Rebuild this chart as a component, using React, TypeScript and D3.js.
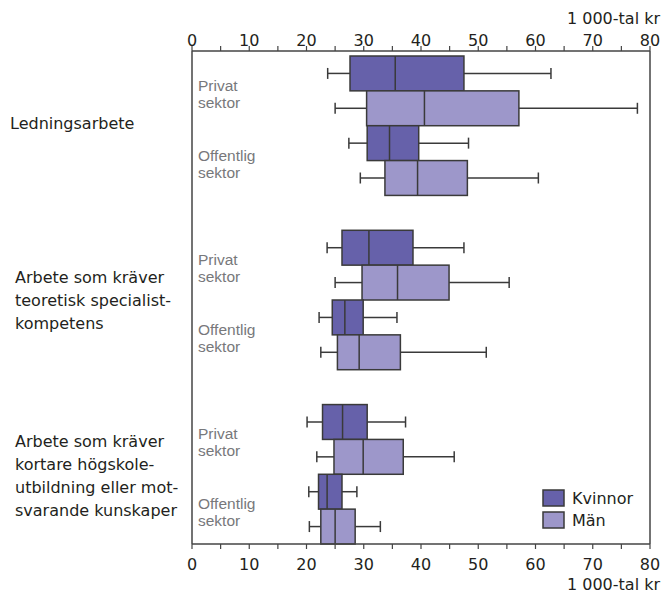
import React from "react";
import * as d3 from "d3";

const groups = [
  ["Ledningsarbete"],
  ["Arbete som kräver", "teoretisk specialist-", "kompetens"],
  ["Arbete som kräver", "kortare högskole-", "utbildning eller mot-", "svarande kunskaper"],
];
const sectors = [["Privat", "sektor"], ["Offentlig", "sektor"]];
const series = ["Kvinnor", "Män"];
const axisTitle = "1 000-tal kr";
const ticks = [0, 10, 20, 30, 40, 50, 60, 70, 80];

// order per group: privat kvinnor, privat män, offentlig kvinnor, offentlig män
// [low whisker, Q1, median, Q3, high whisker]
const g1 = [
  [23.7, 27.6, 35.5, 47.5, 62.7],
  [25.0, 30.5, 40.6, 57.1, 77.8],
  [27.4, 30.6, 34.5, 39.6, 48.3],
  [29.4, 33.7, 39.4, 48.1, 60.5],
];
const g2 = [
  [23.6, 26.2, 30.9, 38.6, 47.5],
  [25.0, 29.7, 35.9, 44.9, 55.4],
  [22.2, 24.5, 26.7, 29.9, 35.8],
  [22.5, 25.4, 29.2, 36.4, 51.4],
];
const g3 = [
  [20.1, 22.8, 26.3, 30.6, 37.3],
  [21.8, 24.8, 29.9, 36.9, 45.8],
  [20.4, 22.1, 23.6, 26.2, 28.8],
  [20.5, 22.5, 25.0, 28.5, 32.9],
];
const groupData = [g1, g2, g3];

const colors = ["#6661aa", "#9d97ca"];
const W = 663, H = 593;
const left = 192, right = 650, top = 56, bottom = 544, axisTop = 51;

export default function App() {
  const x = d3.scaleLinear().domain([0, 80]).range([left, right]);
  const slots = d3.range(14);
  const y = d3.scaleBand<number>().domain(slots).range([top, bottom]).padding(0);
  const bh = y.bandwidth();
  const minor = d3.range(0, 81, 5);
  const darkFont = "'DejaVu Sans', sans-serif";
  const lh = 23;

  return (
    <svg width={W} height={H} style={{ position: "absolute", left: 0, top: 0 }}>
      <rect width={W} height={H} fill="#fff" />
      {/* boxes */}
      {groupData.map((g, gi) =>
        g.map((d, k) => {
          const slot = gi * 5 + k;
          const y0 = y(slot)!;
          const cy = y0 + bh / 2;
          const c = colors[k % 2];
          return (
            <g key={`${gi}-${k}`}>
              <line x1={x(d[0])} x2={x(d[1])} y1={cy} y2={cy} stroke="#3a3a3a" strokeWidth={1.5} />
              <line x1={x(d[3])} x2={x(d[4])} y1={cy} y2={cy} stroke="#3a3a3a" strokeWidth={1.5} />
              <line x1={x(d[0])} x2={x(d[0])} y1={cy - 5.5} y2={cy + 5.5} stroke="#3a3a3a" strokeWidth={1.5} />
              <line x1={x(d[4])} x2={x(d[4])} y1={cy - 5.5} y2={cy + 5.5} stroke="#3a3a3a" strokeWidth={1.5} />
              <rect x={x(d[1])} y={y0} width={x(d[3]) - x(d[1])} height={bh} fill={c} stroke="#3a3a3a" strokeWidth={1.5} />
              <line x1={x(d[2])} x2={x(d[2])} y1={y0} y2={y0 + bh} stroke="#3a3a3a" strokeWidth={1.5} />
            </g>
          );
        })
      )}
      {/* frame */}
      <line x1={left} x2={right} y1={axisTop} y2={axisTop} stroke="#444" strokeWidth={1.5} />
      <line x1={left} x2={right} y1={bottom} y2={bottom} stroke="#444" strokeWidth={1.5} />
      <line x1={left} x2={left} y1={axisTop} y2={bottom} stroke="#444" strokeWidth={1.5} />
      <line x1={right} x2={right} y1={axisTop} y2={bottom} stroke="#444" strokeWidth={1.5} />
      {minor.map((t) => (
        <g key={t}>
          <line x1={x(t)} x2={x(t)} y1={axisTop} y2={axisTop - 5} stroke="#444" strokeWidth={1.2} />
          <line x1={x(t)} x2={x(t)} y1={bottom} y2={bottom + 5} stroke="#444" strokeWidth={1.2} />
        </g>
      ))}
      {ticks.map((t) => (
        <g key={t} fontFamily={darkFont} fontSize={16} fill="#231f20" textAnchor="middle">
          <text x={x(t)} y={45.5}>{t}</text>
          <text x={x(t)} y={570}>{t}</text>
        </g>
      ))}
      <text x={660} y={24} fontFamily={darkFont} fontSize={16} fill="#231f20" textAnchor="end">{axisTitle}</text>
      <text x={660} y={590} fontFamily={darkFont} fontSize={16} fill="#231f20" textAnchor="end">{axisTitle}</text>
      {/* category labels */}
      {groups.map((lines, gi) => {
        const center = y(gi * 5)! + 2 * bh;
        const n = lines.length;
        const first = center - ((n - 1) * lh) / 2 + 3 + (n - 1) * 1.5;
        return (
          <text key={gi} fontFamily={darkFont} fontSize={16} fill="#231f20">
            {lines.map((l, i) => (
              <tspan key={i} x={gi === 0 ? 10 : 15} y={first + i * lh}>{l}</tspan>
            ))}
          </text>
        );
      })}
      {/* sector labels */}
      {groups.map((_, gi) =>
        sectors.map((s, si) => {
          const boundary = y(gi * 5 + si * 2)! + bh;
          return (
            <text key={`${gi}-${si}`} fontFamily="'Liberation Sans', Arial, sans-serif" fontSize={15.5} fill="#77787b">
              <tspan x={198} y={boundary}>{s[0]}</tspan>
              <tspan x={198} y={boundary + 17}>{s[1]}</tspan>
            </text>
          );
        })
      )}
      {/* legend */}
      {series.map((s, i) => (
        <g key={s}>
          <rect x={543} y={490 + i * 22} width={21} height={16} fill={colors[i]} stroke="#3a3a3a" strokeWidth={1.5} />
          <text x={572} y={504 + i * 22} fontFamily={darkFont} fontSize={16} fill="#231f20">{s}</text>
        </g>
      ))}
    </svg>
  );
}
